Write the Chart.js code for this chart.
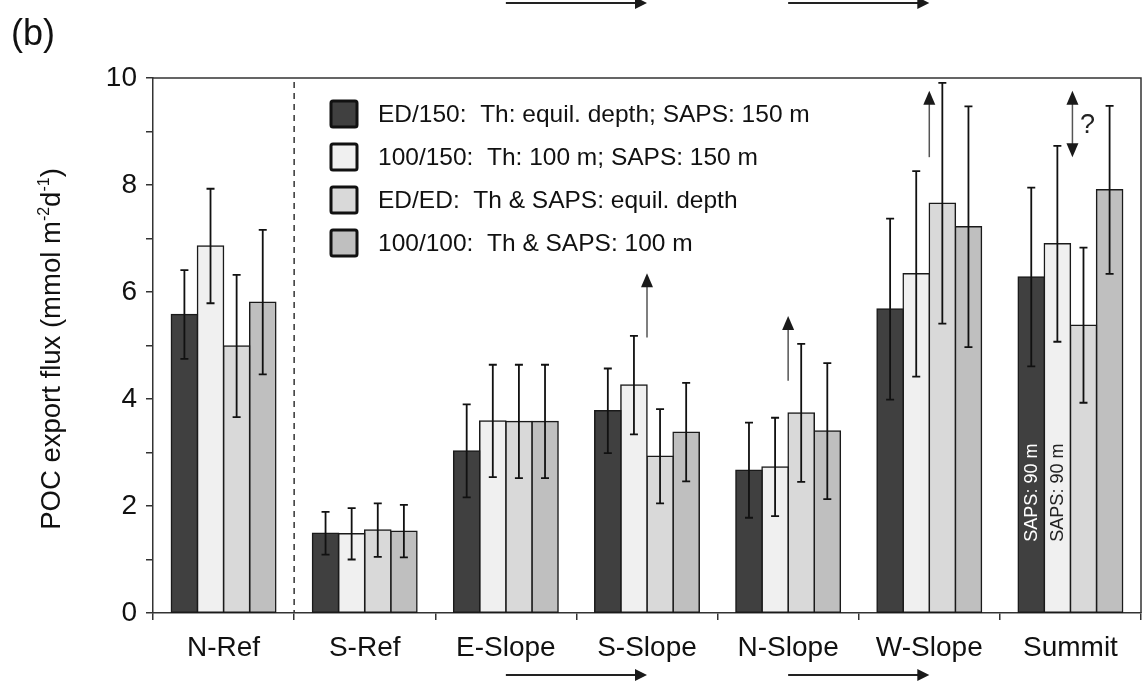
<!DOCTYPE html>
<html>
<head>
<meta charset="utf-8">
<script src="https://cdn.jsdelivr.net/npm/chart.js@4.4.1/dist/chart.umd.min.js"></script>
<style>
  html, body { margin: 0; padding: 0; background: #fff; }
  canvas { display: block; }
</style>
</head>
<body>
<canvas id="fluxChart" width="1145" height="686"></canvas>
<script>
// stations along the transect
var stations = ['N-Ref', 'S-Ref', 'E-Slope', 'S-Slope', 'N-Slope', 'W-Slope', 'Summit'];

// POC export flux (mmol m-2 d-1) and its uncertainty, one array per method
var fluxED150 = [5.58, 1.49, 3.03, 3.78, 2.67, 5.68, 6.28];
var errED150 = [0.83, 0.40, 0.87, 0.79, 0.89, 1.69, 1.67];
var flux100150 = [6.86, 1.48, 3.59, 4.26, 2.73, 6.34, 6.90];
var err100150 = [1.07, 0.48, 1.05, 0.92, 0.92, 1.92, 1.83];
var fluxEDED = [4.99, 1.55, 3.58, 2.93, 3.74, 7.66, 5.38];
var errEDED = [1.33, 0.50, 1.06, 0.88, 1.29, 2.25, 1.45];
var flux100100 = [5.81, 1.53, 3.58, 3.38, 3.40, 7.22, 7.91];
var err100100 = [1.35, 0.49, 1.06, 0.92, 1.27, 2.25, 1.57];

var methodLabels = [
    'ED/150:  Th: equil. depth; SAPS: 150 m',
    '100/150:  Th: 100 m; SAPS: 150 m',
    'ED/ED:  Th & SAPS: equil. depth',
    '100/100:  Th & SAPS: 100 m'
];
var yTicks = [0, 2, 4, 6, 8, 10];

// vertical arrows above some stations: [station, from, to], double = both heads
var upArrows = [['S-Slope', 5.15, 6.35], ['N-Slope', 4.34, 5.55], ['W-Slope', 8.52, 9.76]];
var bothArrows = [['Summit', 8.52, 9.76]];
// horizontal arrows under the axis (and repeated along the top edge)
var flowArrows = [['E-Slope', 'S-Slope'], ['N-Slope', 'W-Slope']];

const FONT = "'Liberation Sans', Arial, sans-serif";
const fills = ['#404040', '#f0f0f0', '#d9d9d9', '#bfbfbf'];

Chart.defaults.font.family = FONT;

function arrowHead(ctx, x, y, dir, len, half) {
    // dir: 'up', 'down', 'right'
    ctx.beginPath();
    if (dir === 'up') {
        ctx.moveTo(x, y); ctx.lineTo(x - half, y + len); ctx.lineTo(x + half, y + len);
    } else if (dir === 'down') {
        ctx.moveTo(x, y); ctx.lineTo(x - half, y - len); ctx.lineTo(x + half, y - len);
    } else {
        ctx.moveTo(x, y); ctx.lineTo(x - len, y - half); ctx.lineTo(x - len, y + half);
    }
    ctx.closePath();
    ctx.fill();
}

var errorBars = {
    id: 'errorBars',
    afterDatasetsDraw: function(chart) {
        var ctx = chart.ctx;
        var y = chart.scales.y;
        ctx.save();
        ctx.strokeStyle = '#111';
        ctx.lineWidth = 1.8;
        chart.data.datasets.forEach(function(ds, i) {
            var meta = chart.getDatasetMeta(i);
            meta.data.forEach(function(bar, j) {
                var v = ds.data[j], e = ds.errors[j];
                var top = y.getPixelForValue(v + e);
                var bot = y.getPixelForValue(v - e);
                ctx.beginPath();
                ctx.moveTo(bar.x, top); ctx.lineTo(bar.x, bot);
                ctx.moveTo(bar.x - 4, top); ctx.lineTo(bar.x + 4, top);
                ctx.moveTo(bar.x - 4, bot); ctx.lineTo(bar.x + 4, bot);
                ctx.stroke();
            });
        });
        ctx.restore();
    }
};

var extras = {
    id: 'extras',
    afterDraw: function(chart) {
        var ctx = chart.ctx;
        var x = chart.scales.x, y = chart.scales.y;
        var area = chart.chartArea;
        ctx.save();

        // frame on top and right
        ctx.strokeStyle = '#333';
        ctx.lineWidth = 1.5;
        ctx.beginPath();
        ctx.moveTo(area.left, area.top);
        ctx.lineTo(area.right, area.top);
        ctx.lineTo(area.right, area.bottom);
        ctx.stroke();

        // dashed separator between the reference stations
        var sep = (x.getPixelForValue(0) + x.getPixelForValue(1)) / 2;
        ctx.setLineDash([6, 5]);
        ctx.beginPath();
        ctx.moveTo(sep, area.top + 4);
        ctx.lineTo(sep, area.bottom);
        ctx.stroke();
        ctx.setLineDash([]);

        // legend
        ctx.font = '24.5px ' + FONT;
        ctx.textBaseline = 'middle';
        ctx.textAlign = 'left';
        methodLabels.forEach(function(txt, i) {
            var cy = 114 + i * 43;
            ctx.fillStyle = fills[i];
            ctx.beginPath();
            ctx.roundRect(331, cy - 13, 26, 26, 2);
            ctx.fill();
            ctx.strokeStyle = '#111';
            ctx.lineWidth = 3;
            ctx.stroke();
            ctx.fillStyle = '#111';
            ctx.fillText(txt, 378, cy + 1);
        });

        // single-headed arrows
        ctx.fillStyle = '#1a1a1a';
        upArrows.forEach(function(a) {
            var ax = x.getPixelForValue(stations.indexOf(a[0]));
            var y0 = y.getPixelForValue(a[1]), y1 = y.getPixelForValue(a[2]);
            ctx.strokeStyle = '#555';
            ctx.lineWidth = 1.5;
            ctx.beginPath();
            ctx.moveTo(ax, y0); ctx.lineTo(ax, y1 + 10);
            ctx.stroke();
            arrowHead(ctx, ax, y1, 'up', 14, 6);
        });

        // double-headed arrow with question mark
        bothArrows.forEach(function(a) {
            var ax = x.getPixelForValue(stations.indexOf(a[0])) + 2;
            var y0 = y.getPixelForValue(a[1]), y1 = y.getPixelForValue(a[2]);
            ctx.strokeStyle = '#555';
            ctx.lineWidth = 1.5;
            ctx.beginPath();
            ctx.moveTo(ax, y0 - 10); ctx.lineTo(ax, y1 + 10);
            ctx.stroke();
            arrowHead(ctx, ax, y1, 'up', 14, 6);
            arrowHead(ctx, ax, y0, 'down', 14, 6);
            ctx.fillStyle = '#222';
            ctx.font = '27px ' + FONT;
            ctx.textAlign = 'center';
            ctx.fillText('?', ax + 15, (y0 + y1) / 2 + 2);
            ctx.fillStyle = '#1a1a1a';
        });

        // horizontal arrows under the axis and along the top
        flowArrows.forEach(function(a) {
            var x0 = x.getPixelForValue(stations.indexOf(a[0]));
            var x1 = x.getPixelForValue(stations.indexOf(a[1]));
            [3, 675].forEach(function(ay) {
                ctx.strokeStyle = '#222';
                ctx.lineWidth = 2.2;
                ctx.beginPath();
                ctx.moveTo(x0, ay); ctx.lineTo(x1 - 8, ay);
                ctx.stroke();
                arrowHead(ctx, x1, ay, 'right', 12, 6);
            });
        });

        // sampling depth notes inside the Summit bars
        var s = stations.indexOf('Summit');
        var ly = y.getPixelForValue(2.25);
        ctx.font = '18px ' + FONT;
        ctx.textAlign = 'center';
        [0, 1].forEach(function(d) {
            var bar = chart.getDatasetMeta(d).data[s];
            ctx.save();
            ctx.translate(bar.x + 1, ly);
            ctx.rotate(-Math.PI / 2);
            ctx.fillStyle = d === 0 ? '#ffffff' : '#222';
            ctx.fillText('SAPS: 90 m', 0, 0);
            ctx.restore();
        });

        // axis title with superscripts
        ctx.save();
        ctx.translate(50, 349);
        ctx.rotate(-Math.PI / 2);
        ctx.fillStyle = '#111';
        ctx.textAlign = 'left';
        ctx.textBaseline = 'alphabetic';
        var parts = [['POC export flux (mmol m', 27.5, 0], ['-2', 16, -11], ['d', 27.5, 0], ['-1', 16, -11], [')', 27.5, 0]];
        var total = 0;
        parts.forEach(function(p) { ctx.font = p[1] + 'px ' + FONT; total += ctx.measureText(p[0]).width; });
        var px = -total / 2;
        parts.forEach(function(p) {
            ctx.font = p[1] + 'px ' + FONT;
            ctx.fillText(p[0], px, 10 + p[2]);
            px += ctx.measureText(p[0]).width;
        });
        ctx.restore();

        // panel letter
        ctx.fillStyle = '#111';
        ctx.font = '36px ' + FONT;
        ctx.textAlign = 'left';
        ctx.textBaseline = 'alphabetic';
        ctx.fillText('(b)', 11, 45);

        ctx.restore();
    }
};

var datasets = [fluxED150, flux100150, fluxEDED, flux100100].map(function(vals, i) {
    return {
        label: methodLabels[i],
        data: vals,
        errors: [errED150, err100150, errEDED, err100100][i],
        backgroundColor: fills[i],
        borderColor: '#1a1a1a',
        borderWidth: 1.5,
        borderSkipped: false,
        inflateAmount: 0.75,
        categoryPercentage: 0.74,
        barPercentage: 1.0
    };
});

var fluxChart = new Chart(document.getElementById('fluxChart'), {
    type: 'bar',
    data: {
        labels: stations,
        datasets: datasets
    },
    options: {
        responsive: false,
        animation: false,
        layout: { padding: { top: 78, right: 4, left: 0, bottom: 0 } },
        plugins: {
            legend: { display: false },
            tooltip: { enabled: false }
        },
        scales: {
            x: {
                offset: true,
                grid: { offset: true, drawOnChartArea: false, tickLength: 7, color: '#333', lineWidth: 1.5 },
                border: { color: '#333', width: 1.5 },
                ticks: { font: { size: 28 }, color: '#111', padding: 11, maxRotation: 0 },
                afterFit: function(scale) { scale.height = 73; }
            },
            y: {
                min: 0,
                max: 10,
                grid: { drawOnChartArea: false, tickLength: 7, color: '#333', lineWidth: 1.5 },
                border: { color: '#333', width: 1.5 },
                ticks: {
                    stepSize: 1,
                    font: { size: 28 },
                    color: '#111',
                    padding: 9,
                    callback: function(v) { return yTicks.indexOf(v) >= 0 ? v : ''; }
                },
                afterFit: function(scale) { scale.width = 153; }
            }
        }
    },
    plugins: [errorBars, extras]
});
</script>
</body>
</html>
